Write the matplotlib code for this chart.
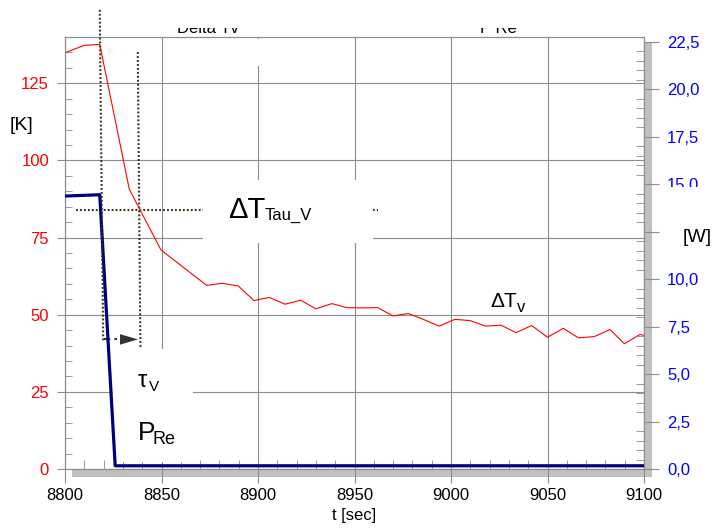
import matplotlib
matplotlib.use('Agg')
import matplotlib.pyplot as plt
from matplotlib.ticker import MultipleLocator, FuncFormatter
from matplotlib.patches import Rectangle, Polygon
from matplotlib.lines import Line2D

plt.rcParams['font.family'] = ['Liberation Sans', 'DejaVu Sans']

# ---- data ----
t_dTv = [8800, 8810, 8818, 8833.3, 8849.7, 8873.4, 8881.2, 8889.8, 8897.9, 8905.9,
         8914, 8922.1, 8930, 8938.2, 8946, 8954, 8962, 8970, 8977.9, 8985.6,
         8993.8, 9002, 9009.8, 9017.9, 9025.9, 9033.7, 9041.8, 9050, 9058.2, 9066,
         9074.2, 9082.4, 9089.8, 9097.9, 9100]
dTv = [134.9, 137.3, 137.6, 90.7, 71.0, 59.5, 60.2, 59.3, 54.6, 55.6,
       53.4, 54.7, 51.9, 53.6, 52.3, 52.2, 52.3, 49.6, 50.4, 48.5,
       46.3, 48.5, 48.1, 46.3, 46.6, 44.2, 46.5, 42.7, 45.6, 42.5,
       42.9, 45.2, 40.6, 43.6, 43.3]

t_PRe = [8800, 8818, 8826, 9100]
PRe = [14.38, 14.45, 0.17, 0.17]

x_ticks = [8800, 8850, 8900, 8950, 9000, 9050, 9100]
hidden_right_labels = [12.5]   # covered by the [W] unit label in the original

# annotation geometry (data coords of left axis)
tau_start_line = ([8818.0, 8819.8], [148.8, 41.5])
tau_end_line = ([8837.7, 8839.1], [135.1, 39.2])
dT_tau_line = ([8805.7, 8962.2], [83.8, 83.8])
arrow_y = 42.0

W, H = 715, 529
fig = plt.figure(figsize=(W / 100, H / 100), dpi=100)
ax = fig.add_axes([65 / W, 1 - 469 / H, (644 - 65) / W, (469 - 37) / H])
ax2 = ax.twinx()

grey = '#8c8c8c'
ax.set_xlim(8800, 9100)
ax.set_ylim(0, 140)
ax2.set_ylim(0, 22.76)

ax.set_xticks(x_ticks)
ax.xaxis.set_minor_locator(MultipleLocator(10))
ax.yaxis.set_major_locator(MultipleLocator(25))
ax.yaxis.set_minor_locator(MultipleLocator(5))
ax2.yaxis.set_major_locator(MultipleLocator(2.5))
ax2.yaxis.set_minor_locator(MultipleLocator(0.5))


def rfmt(v, p):
    if any(abs(v - h) < 1e-6 for h in hidden_right_labels):
        return ''
    return f"{v:.1f}".replace('.', ',')


ax2.yaxis.set_major_formatter(FuncFormatter(rfmt))

ax.grid(True, which='major', color=grey, lw=0.8)
ax.tick_params(axis='x', which='major', direction='out', length=10, color=grey,
               labelsize=12, pad=4, labelcolor='black')
ax.tick_params(axis='x', which='minor', direction='in', length=6.5, color=grey)
ax.tick_params(axis='y', which='major', direction='out', length=6, color=grey,
               labelsize=12, pad=5.5, labelcolor='#ff0000')
ax.tick_params(axis='y', which='minor', direction='in', length=5, color=grey)
ax2.tick_params(axis='y', which='major', direction='out', length=11, color=grey,
                labelsize=12, pad=5.5, labelcolor='#0000ff')
ax2.tick_params(axis='y', which='minor', direction='in', length=6, color=grey)
for a in (ax, ax2):
    for s in a.spines.values():
        s.set_color(grey)
        s.set_linewidth(0.8)

# shadow bars
ax.add_patch(Rectangle((72 / 100, (H - 477) / 100), (652 - 72) / 100, 8 / 100,
                       transform=fig.dpi_scale_trans, facecolor='#c0c0c0',
                       edgecolor='none', clip_on=False, zorder=1))
ax.add_patch(Rectangle((644 / 100, (H - 477) / 100), 8 / 100, (477 - 43) / 100,
                       transform=fig.dpi_scale_trans, facecolor='#c0c0c0',
                       edgecolor='none', clip_on=False, zorder=1))

# white label boxes
for (x0, x1, y0, y1) in [(8871.5, 8959.6, 73.2, 93.7), (8824.9, 8866.3, 2.3, 38.9),
                         (8890.7, 8908.8, 130.6, 139.4)]:
    ax.add_patch(Rectangle((x0, y0), x1 - x0, y1 - y0, facecolor='white',
                           edgecolor='none', zorder=2.5))

dot = dict(color='#333319', lw=1.5, ls=(0, (0.9, 1.0)))
ax.plot(*tau_end_line, zorder=2, **dot)
ax.plot(*dT_tau_line, zorder=2, **dot)
fig.add_artist(Line2D(*tau_start_line, transform=ax.transData, zorder=3, **dot))

# arrow
ax.plot([8820, 8827], [arrow_y, arrow_y], color='#333333', lw=1.5, ls=(0, (3, 2)), zorder=3)
ax.add_patch(Polygon([[8828.5, arrow_y - 1.7], [8828.5, arrow_y + 1.7], [8837.8, arrow_y]],
                     closed=True, facecolor='#333333', edgecolor='none', zorder=3))

ax.plot(t_dTv, dTv, color='#ff0000', lw=0.8, zorder=3)
ax2.plot(t_PRe, PRe, color='#000080', lw=2.3, zorder=3)

ft = fig.dpi_scale_trans
def ptext(x, y, s, **kw):
    fig.text(x / 100, (H - y) / 100, s, transform=ft, **kw)

ptext(10, 130, '[K]', fontsize=14, va='baseline')
ptext(683, 242, '[W]', fontsize=14, va='baseline', zorder=3)
ptext(354, 520, 't [sec]', fontsize=12, va='baseline', ha='center')
ptext(228, 218, 'ΔT', fontsize=21, va='baseline')
ptext(265, 220, 'Tau_V', fontsize=12, va='baseline')
ptext(490, 307, 'ΔT', fontsize=15, va='baseline')
ptext(517, 312, 'v', fontsize=12, va='baseline')
ptext(137.5, 387, 'τ', fontsize=17, va='baseline')
ptext(148.5, 391, 'V', fontsize=11, va='baseline')
ptext(138, 440, 'P', fontsize=19, va='baseline')
ptext(153, 444, 'Re', fontsize=13, va='baseline')
ptext(208, 33, 'Delta Tv', fontsize=12, va='baseline', ha='center', zorder=1)
ptext(498, 33, 'P Re', fontsize=12, va='baseline', ha='center', zorder=1)

# white masks (clipped title strip and the clipped lower half of "15,0")
fig.add_artist(Rectangle((0, (H - 28) / 100), W / 100, 28 / 100, transform=ft,
                         facecolor='white', edgecolor='none', zorder=2))
fig.add_artist(Rectangle((662 / 100, (H - 255) / 100), 53 / 100, 68 / 100, transform=ft,
                         facecolor='white', edgecolor='none', zorder=2))

fig.savefig('out.png', dpi=100)
